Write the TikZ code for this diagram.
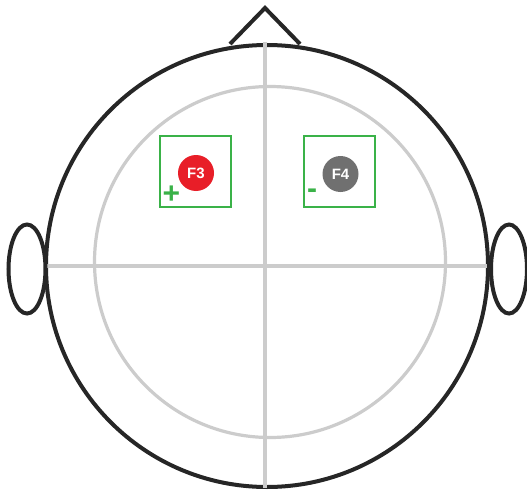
\documentclass[tikz,border=0pt]{standalone}
\usepackage{fontspec}
\setmainfont{Liberation Sans}
\usetikzlibrary{shapes.geometric}
\begin{document}
\begin{tikzpicture}[x=1pt,y=-1pt,
  headline/.style={draw=black!85,line width=4pt},
  gridline/.style={draw=black!20,line width=3.2pt},
  elbox/.style={draw=elgreen,line width=2.2pt,minimum width=71pt,minimum height=71pt,inner sep=0pt},
  electrode/.style={circle,inner sep=0pt,minimum size=36pt,text=white,font=\bfseries\fontsize{15}{16}\selectfont},
  sign/.style={text=elgreen,font=\bfseries\fontsize{30}{30}\selectfont,inner sep=0pt}]
\definecolor{elgreen}{RGB}{58,178,72}
\definecolor{elred}{RGB}{232,30,40}
\definecolor{elgray}{RGB}{112,112,112}
\useasboundingbox (0,0) rectangle (527,492);
% nose
\coordinate (nl) at (230,44);
\coordinate (nt) at (265,8);
\coordinate (nr) at (300,44);
\draw[headline,line join=miter] (nl) -- (nt) -- (nr);
% head
\node[circle,headline,fill=white,minimum size=442pt,inner sep=0pt] (head) at (267,266) {};
% inner circle
\node[circle,gridline,minimum size=351pt,inner sep=0pt] (inner) at (270,262) {};
% crosshair
\coordinate (vt) at (265,42);
\coordinate (vb) at (265,488);
\coordinate (hl) at (47,266);
\coordinate (hr) at (487,266);
\draw[gridline] (vt) -- (vb);
\draw[gridline] (hl) -- (hr);
% ears
\node[ellipse,headline,fill=white,minimum width=37pt,minimum height=89pt,inner sep=0pt] (earL) at (27,269) {};
\node[ellipse,headline,fill=white,minimum width=36pt,minimum height=89pt,inner sep=0pt] (earR) at (509,269) {};
% electrode boxes
\node[elbox] (boxF3) at (195.5,171.5) {};
\node[elbox] (boxF4) at (339.5,171.5) {};
\node[electrode,fill=elred] (F3) at (196,173) {F3};
\node[electrode,fill=elgray] (F4) at (340.5,174) {F4};
\node[sign] (plus) at (171.5,195) {+};
\node[sign] (minus) at (312,194) {-};
\end{tikzpicture}
\end{document}
